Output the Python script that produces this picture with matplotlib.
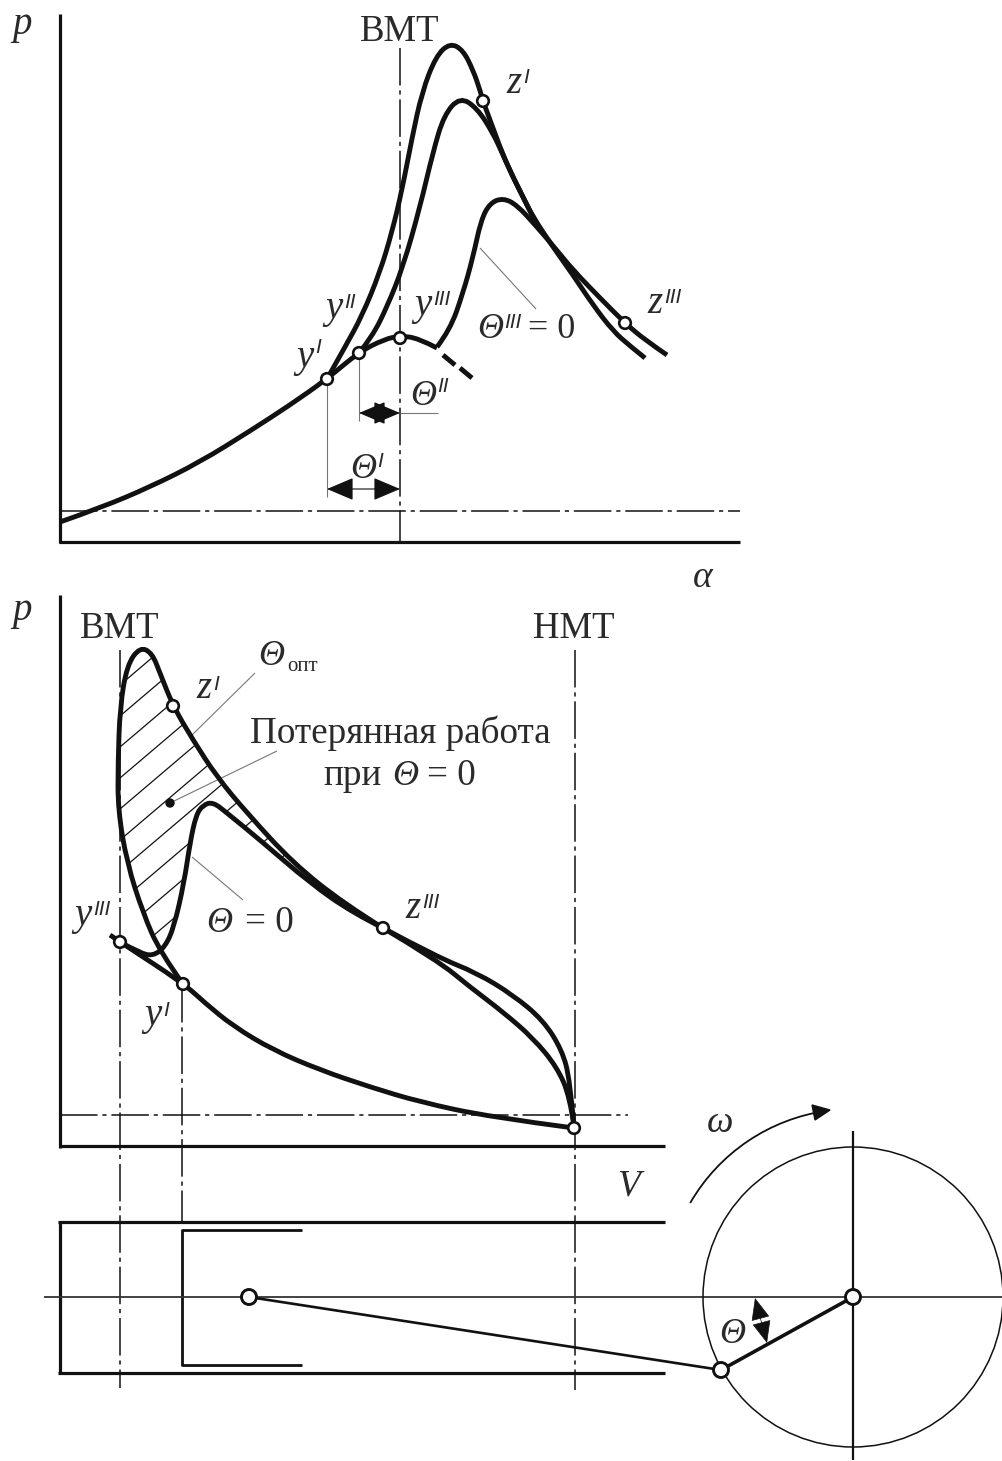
import numpy as np
import matplotlib
matplotlib.use("Agg")
import matplotlib.pyplot as plt
from matplotlib.path import Path
from matplotlib.patches import PathPatch, Circle, Arc, Polygon

plt.rcParams['font.family'] = ['Liberation Serif', 'DejaVu Serif']
plt.rcParams['lines.scale_dashes'] = False

# top chart, p(alpha), the axes below are in pixels of the picture
compr_top = [(60, 522), (100, 508), (150, 487), (200, 462), (250, 431), (290, 405), (327, 379),
             (359, 352), (385, 339), (400, 336), (418, 338), (437, 348)]
compr_top_dashes = [[(443, 355), (455, 365)], [(460, 368), (472, 378)]]
curve_1 = [(327, 379), (345, 347), (362, 316), (380, 272), (392, 232), (402, 190), (412, 138),
           (422, 92), (436, 56), (450, 43), (463, 50), (473, 70), (480, 90), (483, 101)]
curve_2 = [(359, 353), (372, 337), (387, 307), (403, 267), (420, 207), (433, 152), (444, 115),
           (460, 97), (477, 108), (493, 133), (503, 155), (513, 177), (523, 197), (533, 217),
           (553, 247), (573, 275), (593, 305), (613, 331), (630, 346), (645, 358)]
curve_1b = [(483, 101), (490, 120), (503, 155), (513, 177), (523, 197), (533, 217)]
curve_3 = [(437, 347), (450, 330), (463, 293), (473, 257), (481, 220), (490, 203), (503, 198),
           (517, 205), (537, 227), (555, 248), (573, 270), (600, 298), (625, 323), (645, 340),
           (667, 355)]

# bottom chart, p(V)
curve_opt = [(183, 984), (160, 952), (143, 913), (127, 863), (118, 810), (118, 763),
             (120, 707), (127, 665), (140, 647), (152, 653), (160, 673), (173, 706),
             (193, 740), (217, 777), (247, 813), (293, 863), (343, 903), (383, 928)]
curve_late = [(120, 942), (140, 953), (153, 956), (165, 947), (174, 927), (184, 883),
              (190, 843), (196, 815), (203, 805), (213, 802), (227, 813), (260, 840),
              (310, 883), (353, 913), (383, 928)]
expans_high = [(383, 928), (437, 957), (477, 973), (513, 995), (543, 1020), (562, 1050),
               (570, 1080), (574, 1127)]
expans_low = [(383, 928), (437, 960), (470, 987), (503, 1012), (533, 1038), (557, 1067),
              (570, 1097), (574, 1127)]
compr_low = [(110, 935), (120, 942), (183, 983), (205, 1003), (233, 1026), (273, 1050),
             (320, 1070), (370, 1087), (420, 1102), (490, 1117), (574, 1128)]

top_points = [(327, 379), (359, 353), (400, 338), (483, 101), (625, 323)]
low_points = [(173, 706), (383, 928), (120, 942), (183, 984), (574, 1128)]
mech_points = [(249, 1297), (853, 1297), (721, 1370)]

INK = '#111111'
TXT = '#2a2a2a'
GRAY = '#777777'
DASHDOT = (0, (27, 3.5, 3, 3.5))
THICK = 3.5


def smooth(points):
    # read points are the control points of quadratic pieces
    pts = np.array(points, dtype=float)
    verts = [pts[0]]
    codes = [Path.MOVETO]
    for i in range(1, len(pts) - 1):
        end = pts[i + 1] if i == len(pts) - 2 else (pts[i] + pts[i + 1]) / 2
        verts += [pts[i], end]
        codes += [Path.CURVE3, Path.CURVE3]
    return Path(verts, codes)


def draw_curve(ax, points, lw=THICK):
    ax.add_patch(PathPatch(smooth(points), fc='none', ec=INK, lw=lw, capstyle='butt', zorder=3))


def line(ax, p0, p1, lw=1.0, color=INK, ls='-', z=2):
    ax.plot([p0[0], p1[0]], [p0[1], p1[1]], lw=lw, color=color, ls=ls, zorder=z,
            solid_capstyle='butt', dash_capstyle='butt')


def nodes(ax, points, r=5.8, lw=1.9):
    for p in points:
        ax.add_patch(Circle(p, r, fc='white', ec=INK, lw=lw, zorder=6))


def label(ax, x, y, s, size=26, ha='center', **kw):
    ax.text(x, y, s, fontsize=size, color=TXT, ha=ha, va='baseline', zorder=7, **kw)


def sup_label(ax, x, y, base, sup, size=28, drop=12):
    # x is where the italic letter stops and its mark begins, y the baseline
    label(ax, x, y, base, size=size, ha='right', style='italic')
    ax.text(x + 1, y - drop, sup, fontsize=15, color=TXT, ha='left', va='baseline', zorder=7,
            family='Liberation Sans', style='italic')


def dim_arrow(ax, p0, p1, lw=0.8, scale=20):
    ax.annotate('', xy=p1, xytext=p0, zorder=5,
                arrowprops=dict(arrowstyle='<|-|>,head_length=0.85,head_width=0.36', color=INK,
                                lw=lw, shrinkA=0, shrinkB=0, mutation_scale=scale))


fig = plt.figure(figsize=(10.03, 14.61), dpi=100)
ax = fig.add_axes([0, 0, 1, 1])
ax.set_xlim(0, 1003)
ax.set_ylim(1461, 0)
ax.axis('off')

# top chart
line(ax, (60, 14), (60, 543), lw=2.3)
line(ax, (59, 541.5), (740, 541.5), lw=2.3)
line(ax, (60, 511), (740, 511), lw=1.1, ls=DASHDOT)
line(ax, (400, 48), (400, 541), lw=1.1, ls=DASHDOT)
line(ax, (327, 379), (327, 497), lw=0.8, color=GRAY)
line(ax, (359, 353), (359, 421), lw=0.8, color=GRAY)
line(ax, (400, 413), (438, 413), lw=0.8, color=GRAY)
line(ax, (480, 248), (536, 309), lw=0.8, color=GRAY)
dim_arrow(ax, (327, 489), (400, 489))
dim_arrow(ax, (359, 413), (400, 413))

draw_curve(ax, compr_top)
for d in compr_top_dashes:
    line(ax, d[0], d[1], lw=THICK, z=3)
draw_curve(ax, curve_1)
draw_curve(ax, curve_1b)
draw_curve(ax, curve_2)
draw_curve(ax, curve_3)
nodes(ax, top_points)

label(ax, 22, 34, 'p', size=28, style='italic')
label(ax, 400, 41, 'ВМТ', size=26.5)
sup_label(ax, 314, 367, 'y', 'I', drop=14)
sup_label(ax, 343, 318, 'y', 'II', drop=10)
sup_label(ax, 432, 315, 'y', 'III', drop=10)
sup_label(ax, 522, 93, 'z', 'I', drop=10)
sup_label(ax, 663, 313, 'z', 'III', drop=10)
sup_label(ax, 503, 338, 'Θ', 'III', size=26, drop=10)
label(ax, 575, 338, '= 0', size=26, ha='right')
sup_label(ax, 436, 405, 'Θ', 'II', size=26, drop=13)
sup_label(ax, 376, 478, 'Θ', 'I', size=26, drop=11)
label(ax, 703, 587, 'α', size=27, style='italic')

# bottom chart
line(ax, (60, 595), (60, 1148), lw=2.3)
line(ax, (59, 1146), (665, 1146), lw=2.3)
line(ax, (60, 1115), (628, 1115), lw=1.1, ls=DASHDOT)
line(ax, (120, 650), (120, 1388), lw=1.1, ls=DASHDOT)
line(ax, (182, 985), (182, 1222), lw=1.1, ls=DASHDOT)
line(ax, (575, 650), (575, 1390), lw=1.1, ls=DASHDOT)

# hatched area between the two curves
outer = smooth(curve_opt).to_polygons(closed_only=False)[0]
inner = smooth(curve_late).to_polygons(closed_only=False)[0]
outer = outer[outer[:, 1] < 951]
inner = inner[inner[:, 0] > 158]
clip = Polygon(np.vstack([outer, inner[::-1]]), closed=True, fc='none', ec='none')
ax.add_patch(clip)
for c in np.arange(640, 1300, 31):
    h, = ax.plot([100, 400], [c, c - 255], lw=0.9, color=INK, zorder=2)
    h.set_clip_path(clip)

draw_curve(ax, curve_opt)
draw_curve(ax, curve_late)
draw_curve(ax, expans_low)
draw_curve(ax, expans_high)
draw_curve(ax, compr_low)
nodes(ax, low_points)
ax.add_patch(Circle((170, 803), 4, fc=INK, ec=INK, zorder=6))
line(ax, (190, 737), (255, 673), lw=0.8, color=GRAY)
line(ax, (170, 803), (277, 751), lw=0.8, color=GRAY)
line(ax, (192, 857), (243, 900), lw=0.8, color=GRAY)

label(ax, 22, 620, 'p', size=28, style='italic')
label(ax, 120, 638, 'ВМТ', size=26.5)
label(ax, 574, 638, 'НМТ', size=26.5)
label(ax, 284, 665, 'Θ', size=26, ha='right', style='italic')
label(ax, 287, 671, 'опт', size=15, ha='left')
sup_label(ax, 212, 698, 'z', 'I', drop=8)
label(ax, 400, 743, 'Потерянная работа', size=26.7)
label(ax, 323, 785, 'при', size=26.7, ha='left')
label(ax, 405, 785, 'Θ', size=26, style='italic')
label(ax, 476, 785, '= 0', size=26.7, ha='right')
label(ax, 219, 932, 'Θ', size=26, style='italic')
label(ax, 294, 932, '= 0', size=26.7, ha='right')
sup_label(ax, 421, 918, 'z', 'III', drop=10)
sup_label(ax, 92, 925, 'y', 'III', drop=10)
sup_label(ax, 162, 1025, 'y', 'I', drop=9)
label(ax, 628, 1195, 'V', size=27, style='italic')

# cylinder, piston and crank
line(ax, (58, 1222), (665, 1222), lw=2.3)
line(ax, (58, 1373), (665, 1373), lw=2.3)
line(ax, (60, 1221), (60, 1374), lw=2.3)
line(ax, (182, 1230), (302, 1230), lw=2.0)
line(ax, (182, 1365), (302, 1365), lw=2.0)
line(ax, (182, 1229), (182, 1366), lw=2.0)
line(ax, (44, 1297), (1003, 1297), lw=1.3, color='#333333')
line(ax, (853, 1131), (853, 1460), lw=1.6)
ax.add_patch(Circle((853, 1297), 150, fc='none', ec=INK, lw=1.1, zorder=2))
line(ax, (249, 1297), (721, 1370), lw=1.9, z=3)
line(ax, (853, 1297), (721, 1370), lw=2.6, z=3)
nodes(ax, mech_points, r=7.5, lw=2.1)
dim_arrow(ax, (755, 1298), (767, 1343), lw=0.5, scale=17)
ax.add_patch(Arc((853, 1297), 376, 376, theta1=210, theta2=262, ec=INK, lw=1.3, zorder=3))
ax.add_patch(Polygon([(830, 1110), (812, 1105), (815, 1120)], closed=True, fc=INK, ec=INK, zorder=3))
label(ax, 720, 1132, 'ω', size=27, style='italic')
label(ax, 732, 1343, 'Θ', size=26, style='italic')

fig.savefig('out.png', dpi=100, facecolor='white')
